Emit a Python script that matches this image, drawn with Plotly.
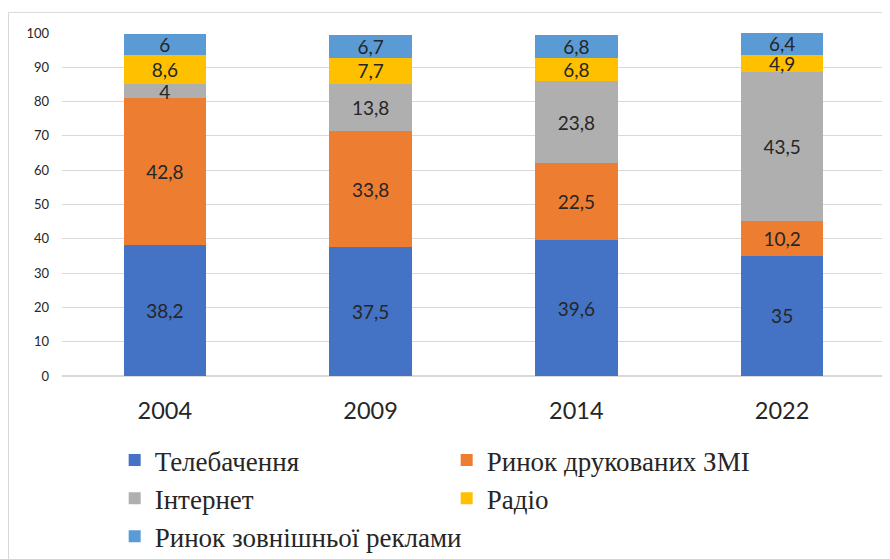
import plotly.graph_objects as go

years = ["2004", "2009", "2014", "2022"]
series_names = ["Телебачення", "Ринок друкованих ЗМІ", "Інтернет", "Радіо", "Ринок зовнішньої реклами"]
tv = [38.2, 37.5, 39.6, 35]
press = [42.8, 33.8, 22.5, 10.2]
internet = [4, 13.8, 23.8, 43.5]
radio = [8.6, 7.7, 6.8, 4.9]
outdoor = [6, 6.7, 6.8, 6.4]
colors = ["#4472C4", "#ED7D31", "#AFAFB0", "#FFC000", "#5B9BD5"]

fig = go.Figure()
for name, vals, col in zip(series_names, [tv, press, internet, radio, outdoor], colors):
    fig.add_trace(go.Bar(
        x=years, y=vals, name=name,
        marker=dict(color=col, line=dict(width=0)),
        text=[str(v).replace(".", ",") for v in vals],
        textposition="inside", insidetextanchor="middle",
        textfont=dict(family="Lato", size=19, color="#262626"),
        constraintext="none", textangle=0,
    ))

fig.update_layout(
    barmode="stack", bargap=0.6,
    width=882, height=600,
    margin=dict(l=54, r=5, t=25, b=232),
    plot_bgcolor="white", paper_bgcolor="white",
    showlegend=True,
    uniformtext=dict(mode=False),
    legend=dict(
        orientation="h", x=0.064, xanchor="left", y=-0.175, yanchor="top",
        font=dict(family="Liberation Serif, Times New Roman, DejaVu Serif, serif", size=27, color="#262626"),
        entrywidth=287, entrywidthmode="pixels", traceorder="normal",
        itemwidth=30,
    ),
    xaxis=dict(
        tickfont=dict(family="Lato", size=23.5, color="#262626"),
        ticklabelstandoff=18, showline=False, showgrid=False,
    ),
    yaxis=dict(
        range=[0, 100], dtick=10,
        tickfont=dict(family="Lato", size=13, color="#262626"),
        gridcolor="#D9D9D9", gridwidth=1, zeroline=True, zerolinecolor="#D9D9D9",
        ticklabelstandoff=12, showline=False,
    ),
    shapes=[
        dict(type="line", xref="paper", yref="paper",
             x0=-0.0650, x1=-0.0650, y0=-0.7, y1=1.06,
             line=dict(color="#D9D9D9", width=1)),
        dict(type="line", xref="paper", yref="paper",
             x0=-0.0650, x1=1.01, y0=1.06, y1=1.06,
             line=dict(color="#D9D9D9", width=1)),
    ],
)

fig.write_html("out.html")
